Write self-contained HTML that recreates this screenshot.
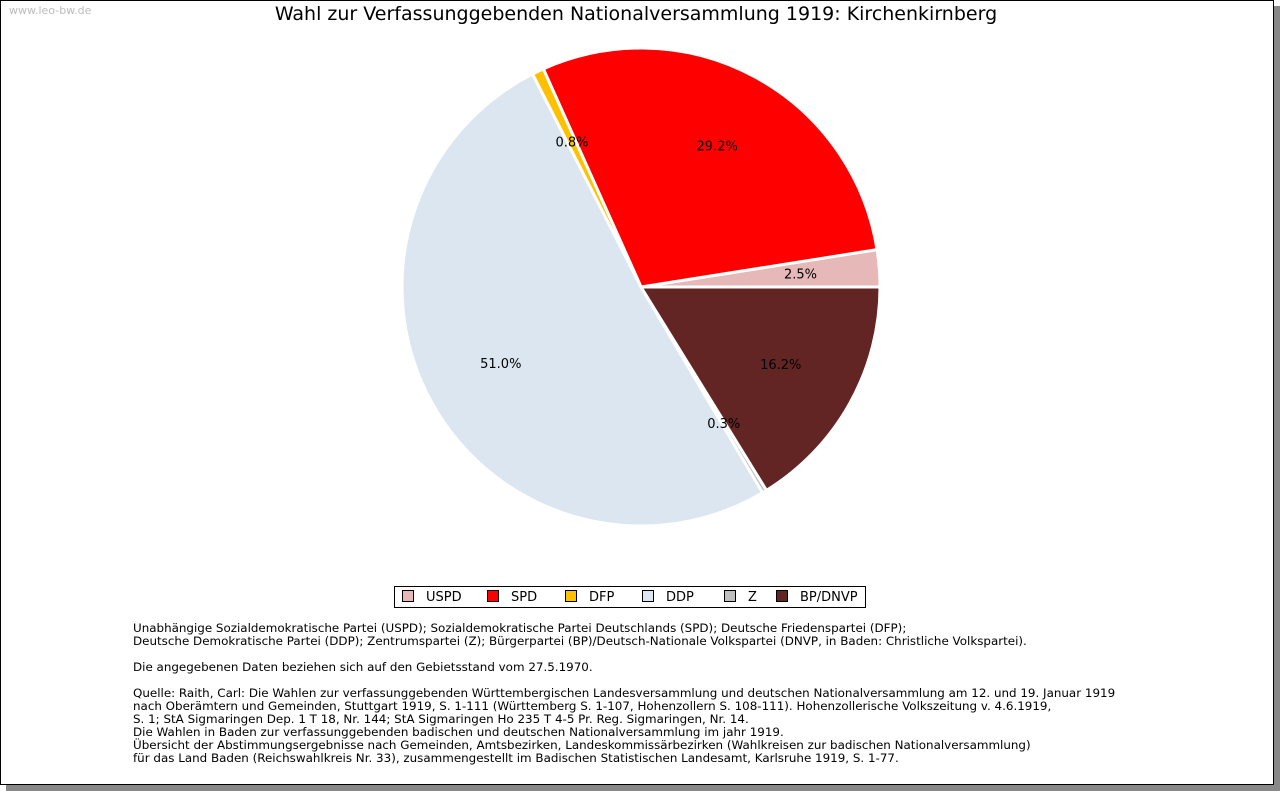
<!DOCTYPE html>
<html><head><meta charset="utf-8"><style>
body{margin:0;width:1280px;height:791px;background:#fff;position:relative;font-family:"DejaVu Sans","Liberation Sans",sans-serif;overflow:hidden}
#frame{position:absolute;left:0;top:0;width:1272px;height:783px;border:1px solid #000;background:#fff;box-shadow:6px 6px 0 #888}
.t{position:absolute;white-space:pre;color:#000}
</style></head><body>
<div id="frame"></div>
<div class="t" style="left:9px;top:4px;font-size:11px;color:#bbb">www.leo-bw.de</div>
<div class="t" style="left:0;width:1272px;text-align:center;top:3px;font-size:19px">Wahl zur Verfassunggebenden Nationalversammlung 1919: Kirchenkirnberg</div>
<svg id="pie" width="1280" height="580" style="position:absolute;left:0;top:0"></svg>
<div style="position:absolute;left:394px;top:586px;width:470px;height:20px;border:1px solid #000;font-size:13px">
<div id="leg" style="position:relative;height:20px"></div></div>
<div class="t" style="left:133px;top:622px;font-size:11.9px;line-height:13px">Unabhängige Sozialdemokratische Partei (USPD); Sozialdemokratische Partei Deutschlands (SPD); Deutsche Friedenspartei (DFP);
Deutsche Demokratische Partei (DDP); Zentrumspartei (Z); Bürgerpartei (BP)/Deutsch-Nationale Volkspartei (DNVP, in Baden: Christliche Volkspartei).

Die angegebenen Daten beziehen sich auf den Gebietsstand vom 27.5.1970.

Quelle: Raith, Carl: Die Wahlen zur verfassunggebenden Württembergischen Landesversammlung und deutschen Nationalversammlung am 12. und 19. Januar 1919
nach Oberämtern und Gemeinden, Stuttgart 1919, S. 1-111 (Württemberg S. 1-107, Hohenzollern S. 108-111). Hohenzollerische Volkszeitung v. 4.6.1919,
S. 1; StA Sigmaringen Dep. 1 T 18, Nr. 144; StA Sigmaringen Ho 235 T 4-5 Pr. Reg. Sigmaringen, Nr. 14.
Die Wahlen in Baden zur verfassunggebenden badischen und deutschen Nationalversammlung im jahr 1919.
Übersicht der Abstimmungsergebnisse nach Gemeinden, Amtsbezirken, Landeskommissärbezirken (Wahlkreisen zur badischen Nationalversammlung)
für das Land Baden (Reichswahlkreis Nr. 33), zusammengestellt im Badischen Statistischen Landesamt, Karlsruhe 1919, S. 1-77.</div>
<script>
const parties=["USPD","SPD","DFP","DDP","Z","BP/DNVP"];
const shares=[2.5,29.2,0.8,51.0,0.3,16.2];
const colors=["#e6b8b7","#ff0000","#ffc000","#dce6f1","#bfbfbf","#632523"];
const NS="http://www.w3.org/2000/svg";
const svg=document.getElementById('pie');
const cx=641,cy=287,R=239,LR=160;
const total=shares.reduce((a,b)=>a+b,0);
let a0=0;
const labels=[];
shares.forEach((v,i)=>{
  const a1=a0+v/total*2*Math.PI;
  const p=document.createElementNS(NS,'path');
  const x0=cx+R*Math.cos(a0),y0=cy-R*Math.sin(a0),x1=cx+R*Math.cos(a1),y1=cy-R*Math.sin(a1);
  const large=(a1-a0)>Math.PI?1:0;
  p.setAttribute('d',`M${cx},${cy}L${x0},${y0}A${R},${R} 0 ${large} 0 ${x1},${y1}Z`);
  p.setAttribute('fill',colors[i]);p.setAttribute('stroke','#fff');p.setAttribute('stroke-width','3');
  
  
  svg.appendChild(p);
  const am=(a0+a1)/2;
  const t=document.createElementNS(NS,'text');
  t.setAttribute('x',cx+LR*Math.cos(am));t.setAttribute('y',cy-LR*Math.sin(am)+4);
  t.setAttribute('text-anchor','middle');t.setAttribute('font-size','13');
  t.setAttribute('font-family','DejaVu Sans, Liberation Sans, sans-serif');
  t.textContent=v.toFixed(1)+'%';
  
  
  labels.push(t);
  a0=a1;
});
labels.forEach(t=>svg.appendChild(t));
const leg=document.getElementById('leg');
const offs=[7,92,170,247,329,381];
parties.forEach((n,i)=>{
  const e=document.createElement('div');
  
  
  e.style.cssText=`position:absolute;left:${offs[i]}px;top:3px;white-space:nowrap;line-height:14px`;
  e.innerHTML=`<span style="display:inline-block;width:10px;height:10px;border:1px solid #000;background:${colors[i]};vertical-align:-1px;margin-right:12px"></span>${n}`;
  leg.appendChild(e);
});
</script>
</body></html>
